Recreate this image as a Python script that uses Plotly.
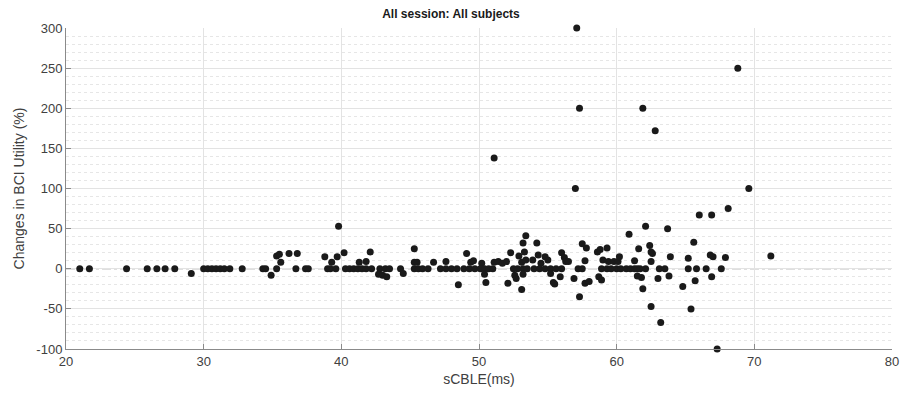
import plotly.graph_objects as go

title_text = "All session: All subjects"
x_label = "sCBLE(ms)"
y_label = "Changes in BCI Utility (%)"

x_ticks = [20, 30, 40, 50, 60, 70, 80]
x_tick_labels = ["20", "30", "40", "50", "60", "70", "80"]
y_ticks = [-100, -50, 0, 50, 100, 150, 200, 250, 300]
y_tick_labels = ["-100", "-50", "0", "50", "100", "150", "200", "250", "300"]

scble = [
    21.0, 21.7, 24.4, 25.9, 26.6, 27.2, 27.9, 29.1,
    30.0, 30.3, 30.6, 30.9, 31.2, 31.5, 31.9, 32.8,
    34.3, 34.5, 34.9, 35.3, 35.3, 35.5, 35.6, 36.2, 36.8, 36.7, 37.4, 37.6,
    38.8, 39.0, 39.2, 39.3, 39.6, 39.7, 39.8, 40.2,
    40.3, 40.6, 40.9, 41.2, 41.5, 41.8, 42.2,
    41.3, 41.8, 42.1,
    42.8, 43.2, 43.5, 42.7, 43.0, 43.3,
    44.3, 44.5,
    45.3, 45.3, 45.5, 45.3, 45.6, 45.9, 46.3, 46.7, 47.2,
    47.6, 47.6, 48.0, 48.4, 48.9, 48.5, 49.1, 49.4, 49.6, 49.3, 49.7,
    50.2, 50.1, 50.4, 50.7, 51.0, 50.4, 50.5, 51.1,
    51.1, 51.4, 51.7, 52.0, 52.1, 52.3, 52.6, 52.7, 52.5, 52.8, 52.9, 53.1, 53.1, 53.2, 53.4, 53.2, 53.5, 53.2, 53.3, 53.4,
    54.2, 53.9, 54.3, 54.5, 54.8, 55.0, 54.0, 54.4, 54.8, 55.2, 55.6, 56.0,
    55.2, 55.4, 55.5, 55.9,
    56.0, 56.2, 56.3, 56.5, 56.9, 57.2, 57.5,
    57.3, 57.5, 57.8, 57.7, 57.7, 58.0,
    58.6, 58.8, 59.3, 58.9, 59.3, 58.7, 58.9, 59.0,
    57.1, 57.3, 57.0,
    59.6, 60.0, 60.3, 60.7, 61.0, 61.3,
    59.4, 59.8, 60.1, 60.2,
    60.9, 61.3, 61.5, 61.7, 62.1, 61.5, 61.8, 61.6, 61.9, 62.1, 62.4, 62.5, 62.6, 62.5, 62.5,
    63.0, 63.1, 63.5, 63.2, 63.7, 63.8, 63.9,
    61.9, 62.8,
    64.8, 65.2, 65.2, 65.4, 65.6, 65.7, 65.8, 66.0, 66.5, 66.8, 67.0, 66.9, 66.9,
    67.3, 67.6, 67.9, 68.1, 68.8, 69.6, 71.2,
]

utility_change = [
    0, 0, 0, 0, 0, 0, 0, -6,
    0, 0, 0, 0, 0, 0, 0, 0,
    0, 0, -8, 0, 16, 18, 8, 19, 19, 0, 0, 0,
    15, 0, 0, 8, 0, 15, 53, 20,
    0, 0, 0, 0, 0, 0, 0,
    8, 9, 21,
    0, 0, 0, -7, -8, -10,
    0, -6,
    25, 8, 8, 0, 0, 0, 0, 8, 0,
    9, 0, 0, 0, 0, -20, 19, 8, 10, 0, 0,
    7, 0, 0, 0, 0, -7, -17, 138,
    8, 9, 7, 9, -18, 20, -8, -12, 0, 0, 16, 8, -26, 32, 41, 0, 0, -7, 21, 11,
    32, 11, 17, 7, 15, 11, 0, 0, 0, 0, 0, 0,
    -6, -17, -19, -10,
    20, 14, 9, 9, -12, 0, 0,
    -35, 31, 26, 10, -18, -16,
    21, 24, 26, 0, 0, -10, -14, 11,
    300, 200, 100,
    0, 0, 0, 0, 0, 0,
    9, 9, 9, 15,
    43, 10, 0, 0, 0, -9, -11, 25, -25, 53, 29, 21, 19, 9, -47,
    -12, 0, 0, -67, 50, -9, 15,
    200, 172,
    -22, 13, 0, -50, 33, -15, 0, 67, 0, 17, 15, 67, -10,
    -100, 0, 14, 75, 250, 100, 16,
]

font_family = "Liberation Sans, Arial, Helvetica, sans-serif"

fig = go.Figure()
fig.add_trace(go.Scatter(
    x=scble, y=utility_change, mode="markers",
    marker=dict(size=7, color="#1a1a1a", line=dict(width=0)),
    showlegend=False, cliponaxis=False,
))

fig.add_shape(type="line", xref="paper", yref="y", x0=0, x1=1, y0=0, y1=0,
              line=dict(color="#808080", width=1, dash="dashdot"), layer="below")

fig.update_layout(
    width=903, height=403,
    margin=dict(l=66, r=11, t=28, b=54, autoexpand=False),
    paper_bgcolor="white", plot_bgcolor="white",
    font=dict(family=font_family, size=13, color="#404040"),
    title=dict(text="<b>" + title_text + "</b>", x=451 / 903, xanchor="center",
               y=1 - 14 / 403, yanchor="middle", font=dict(size=12, color="#1a1a1a")),
)

fig.update_xaxes(
    range=[20, 80], tickvals=x_ticks, ticktext=x_tick_labels,
    showgrid=True, gridcolor="#e3e3e3", gridwidth=1,
    showline=True, linecolor="#8a8a8a", linewidth=1, mirror=False,
    ticks="inside", ticklen=5, tickcolor="#8a8a8a",
    zeroline=False, automargin=False, ticklabeloverflow="allow",
    title=dict(text=x_label, standoff=6, font=dict(size=14, color="#404040")),
)
fig.update_yaxes(
    range=[-100, 300], tickvals=y_ticks, ticktext=y_tick_labels,
    showgrid=True, gridcolor="#e3e3e3", gridwidth=1,
    minor=dict(dtick=10, showgrid=True, gridcolor="#e6e6e6", griddash="dot", ticks=""),
    showline=True, linecolor="#8a8a8a", linewidth=1, mirror=False,
    ticks="inside", ticklen=5, tickcolor="#8a8a8a",
    zeroline=False, automargin=False,
    title=dict(text=y_label, standoff=8, font=dict(size=14, color="#404040")),
)

# remove the browser's default 8px body margin so the figure fills the window exactly
fig.write_html(
    "out.html",
    config={"displayModeBar": False},
    post_script="document.body.style.margin='0';document.body.style.overflow='hidden';",
)
